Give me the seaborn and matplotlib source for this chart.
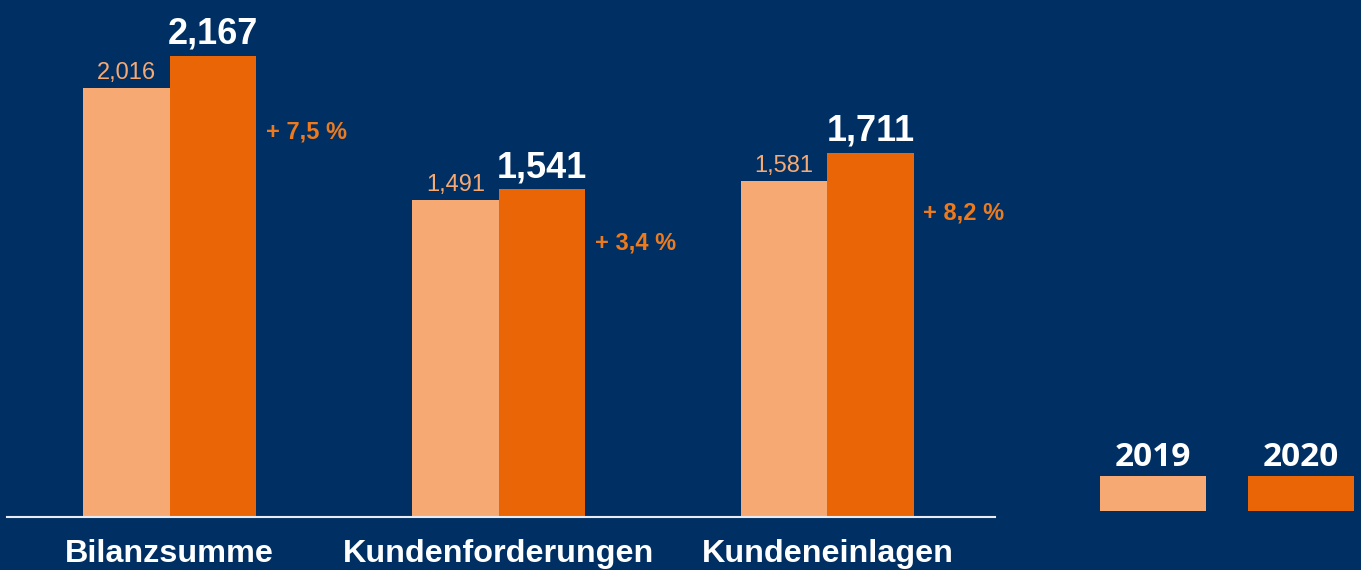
import matplotlib
matplotlib.use("Agg")
import matplotlib.pyplot as plt
import matplotlib.patches as mpatches
import seaborn as sns
import pandas as pd

categories = ["Bilanzsumme", "Kundenforderungen", "Kundeneinlagen"]
years = ["2019", "2020"]
values_2019 = [2.016, 1.491, 1.581]
values_2020 = [2.167, 1.541, 1.711]
pct_labels = ["+ 7,5 %", "+ 3,4 %", "+ 8,2 %"]

BG = "#003063"
C19 = "#F7A973"
C20 = "#EA6506"
PCT = "#EE7A1E"

df = pd.DataFrame({
    "cat": categories * 2,
    "year": [years[0]] * 3 + [years[1]] * 3,
    "value": values_2019 + values_2020,
})

sns.set_theme(style="white")
plt.rcParams["font.family"] = ["Liberation Sans", "DejaVu Sans"]

fig = plt.figure(figsize=(13.61, 5.70), dpi=100, facecolor=BG)
ax = fig.add_axes([7 / 1361, 53 / 570, (995 - 7) / 1361, 517 / 570])
ax.set_facecolor(BG)

sns.barplot(data=df, x="cat", y="value", hue="year", order=categories,
            hue_order=years, palette=[C19, C20], width=0.525,
            saturation=1, legend=False, ax=ax, linewidth=0)

ax.set_xlim(-0.495, 2.51)
ax.set_ylim(0, 517 / 212.7)

for sp in ["top", "right", "left"]:
    ax.spines[sp].set_visible(False)
ax.spines["bottom"].set_color("#E8ECF2")
ax.spines["bottom"].set_linewidth(1.5)
ax.set_yticks([])
ax.set_xlabel("")
ax.set_ylabel("")
ax.tick_params(axis="x", length=0, pad=16)
for lbl in ax.get_xticklabels():
    lbl.set_color("white")
    lbl.set_fontsize(23.3)
    lbl.set_fontweight("bold")

fmt = lambda v: f"{v:.3f}".replace(".", ",")

c19, c20 = ax.containers[0], ax.containers[1]
for bar, v in zip(c19, values_2019):
    ax.annotate(fmt(v), (bar.get_x() + bar.get_width() / 2, v),
                xytext=(0, 3), textcoords="offset points",
                ha="center", va="bottom", color=C19, fontsize=17)
for bar, v, p in zip(c20, values_2020, pct_labels):
    ax.annotate(fmt(v), (bar.get_x() + bar.get_width() / 2, v),
                xytext=(0, 3), textcoords="offset points",
                ha="center", va="bottom", color="white", fontsize=26,
                fontweight="bold")
    ax.annotate(p, (bar.get_x() + bar.get_width(), v * 0.835),
                xytext=(7, 0), textcoords="offset points",
                ha="left", va="center", color=PCT, fontsize=17,
                fontweight="bold")

# legend
W, H = 1361, 570
for i, (yr, col) in enumerate(zip(years, [C19, C20])):
    x0 = 1100 + i * 148
    fig.patches.append(mpatches.Rectangle((x0 / W, (H - 511) / H), 106 / W, 35 / H,
                                          transform=fig.transFigure,
                                          facecolor=col, edgecolor="none"))
    fig.text((x0 + 53) / W, (H - 457) / H, yr, ha="center", va="center",
             color="white", fontsize=24, fontweight="bold",
             family=["Open Sans", "DejaVu Sans"])

fig.savefig("out.png", dpi=100, facecolor=BG)
